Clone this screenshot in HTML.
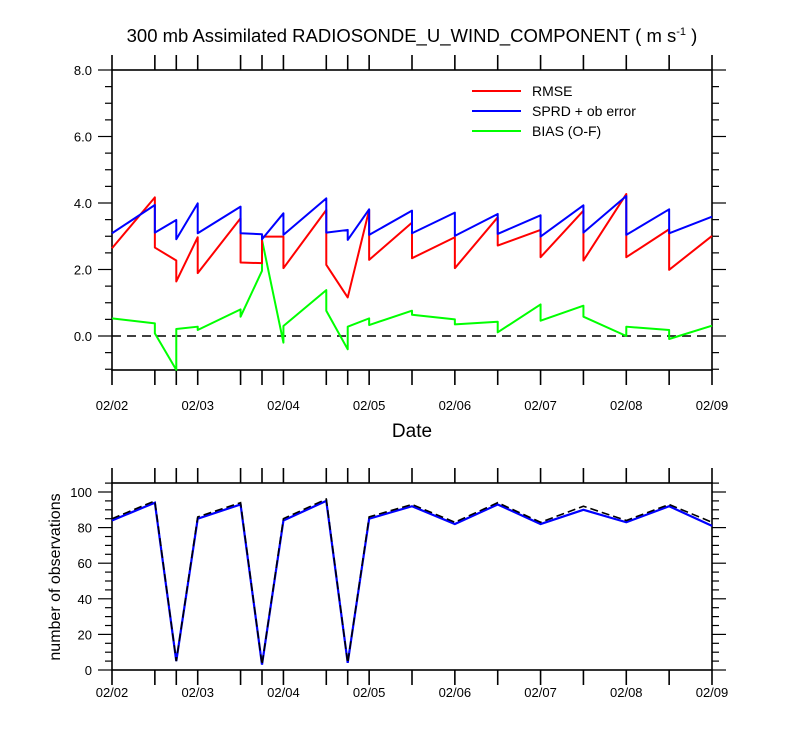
<!DOCTYPE html>
<html><head><meta charset="utf-8"><style>
body{margin:0;background:#fff}
svg{display:block;font-family:"Liberation Sans",sans-serif}
</style></head><body>
<svg id="c" width="800" height="750" xmlns="http://www.w3.org/2000/svg">
<text x="412" y="42" font-size="18.5" text-anchor="middle">300 mb Assimilated RADIOSONDE_U_WIND_COMPONENT ( m s<tspan dy="-7" font-size="11">-1</tspan><tspan dy="7"> )</tspan></text>
<g id="topPanel"></g>
<g id="botPanel"></g>
<text x="412" y="437" font-size="19" text-anchor="middle">Date</text>
<text transform="translate(60,577) rotate(-90)" font-size="16" text-anchor="middle">number of observations</text>
<g>
<line x1="472" y1="91" x2="521" y2="91" stroke="#f00" stroke-width="2"/>
<text x="532" y="96" font-size="14">RMSE</text>
<line x1="472" y1="111" x2="521" y2="111" stroke="#00f" stroke-width="2"/>
<text x="532" y="116" font-size="14">SPRD + ob error</text>
<line x1="472" y1="131" x2="521" y2="131" stroke="#0f0" stroke-width="2"/>
<text x="532" y="136" font-size="14">BIAS (O-F)</text>
</g>
</svg>
<script>
// times in days since 02/02 00Z
const times=[0,0.5,0.75,1,1.5,1.75,2,2.5,2.75,3,3.5,4,4.5,5,5.5,6,6.5,7];
const dateLabels=["02/02","02/03","02/04","02/05","02/06","02/07","02/08","02/09"];
// sawtooth: value at start of each interval, value arriving at next time
const rmseStart=[2.64,2.66,1.64,1.89,2.21,2.99,2.04,2.14,1.16,2.29,2.34,2.04,2.72,2.37,2.27,2.37,1.99];
const rmseEnd  =[4.17,2.27,2.97,3.54,2.19,2.99,3.79,1.16,3.79,3.41,2.97,3.57,3.19,3.77,4.27,3.21,3.01];
const sprdStart=[3.09,3.11,2.91,3.09,3.09,2.91,3.04,3.11,2.89,3.04,3.09,3.01,3.07,2.99,3.11,3.04,3.09];
const sprdEnd  =[3.94,3.49,3.99,3.89,3.06,3.69,4.14,3.19,3.81,3.77,3.71,3.67,3.63,3.93,4.21,3.81,3.59];
const biasStart=[0.53,0.08,0.21,0.18,0.58,2.89,0.30,0.76,0.28,0.33,0.64,0.35,0.11,0.46,0.58,0.28,-0.09];
const biasEnd  =[0.38,-1.02,0.28,0.80,1.96,-0.20,1.38,-0.40,0.53,0.76,0.50,0.43,0.95,0.91,0.00,0.18,0.31];
const obsUsed=[84,94,5,85,93,3,84,95,4,85,92,82,93,82,90,83,92,81];
const obsTotal=[85,95,5,86,94,3,85,96,4,86,93,83,94,83,92,84,93,83];
const yTopTicks=[0,2,4,6,8];
const yBotTicks=[0,20,40,60,80,100];

const NS="http://www.w3.org/2000/svg";
const X0=112,X1=712;
const xs=t=>X0+(X1-X0)*t/7;
const yT=v=>336-v*33.25;
const yB=v=>670-v*1.78;
function mk(tag,attrs,parent){const e=document.createElementNS(NS,tag);for(const k in attrs)e.setAttribute(k,attrs[k]);parent.appendChild(e);return e;}
const topG=document.getElementById('topPanel'),botG=document.getElementById('botPanel');

function axes(g,yTop,yBot,yScale,ticks,minorStep,fmt,vmin,vmax,labY){
  const r=mk('rect',{x:X0,y:yTop,width:X1-X0,height:yBot-yTop,fill:'none',stroke:'#000','stroke-width':1.6},g);
  
  
  times.forEach(t=>{
    const x=xs(t);
    const a=mk('line',{x1:x,y1:yBot,x2:x,y2:yBot+15,stroke:'#000','stroke-width':1.6},g);
    
    
    const b=mk('line',{x1:x,y1:yTop,x2:x,y2:yTop-15,stroke:'#000','stroke-width':1.6},g);
    
    
  });
  dateLabels.forEach((d,i)=>{
    const t=mk('text',{x:xs(i),y:labY,'font-size':13,'text-anchor':'middle'},g);
    t.textContent=d;
    
    
  });
  for(let v=vmin;v<=vmax+1e-9;v+=minorStep){
    const y=yScale(v);const major=ticks.some(k=>Math.abs(k-v)<1e-6);const L=major?14:7;
    const a=mk('line',{x1:X0-L,y1:y,x2:X0,y2:y,stroke:'#000','stroke-width':1.2},g);
    
    
    const b=mk('line',{x1:X1,y1:y,x2:X1+L,y2:y,stroke:'#000','stroke-width':1.2},g);
    
    
  }
  ticks.forEach(v=>{
    const t=mk('text',{x:X0-20,y:yScale(v)+5,'font-size':13,'text-anchor':'end'},g);
    t.textContent=fmt(v);
    
    
  });
}
axes(topG,70,370,yT,yTopTicks,0.5,v=>v.toFixed(1),-1,8,410);
axes(botG,483,670,yB,yBotTicks,5,v=>String(v),0,105,697);

const zl=mk('line',{x1:X0,y1:yT(0),x2:X1,y2:yT(0),stroke:'#000','stroke-width':1.5,'stroke-dasharray':'9,6'},topG);



function saw(s,e,color,name){
  let d='';
  for(let i=0;i<s.length;i++){
    d+=(i?'L':'M')+xs(times[i])+','+yT(s[i])+'L'+xs(times[i+1])+','+yT(e[i]);
  }
  const p=mk('path',{d:d,fill:'none',stroke:color,'stroke-width':2,'stroke-linejoin':'round'},topG);
  
  
}
saw(biasStart,biasEnd,'#0f0','bias-line');
saw(rmseStart,rmseEnd,'#f00','rmse-line');
saw(sprdStart,sprdEnd,'#00f','sprd-line');

function obsLine(v,attrs,name){
  const d=v.map((o,i)=>(i?'L':'M')+xs(times[i])+','+yB(o)).join('');
  const p=mk('path',Object.assign({d:d,fill:'none'},attrs),botG);
  
  
}
obsLine(obsUsed,{stroke:'#00f','stroke-width':2.2},'obs-used-line');
obsLine(obsTotal,{stroke:'#000','stroke-width':1.6,'stroke-dasharray':'8,4'},'obs-total-line');
</script>
</body></html>
